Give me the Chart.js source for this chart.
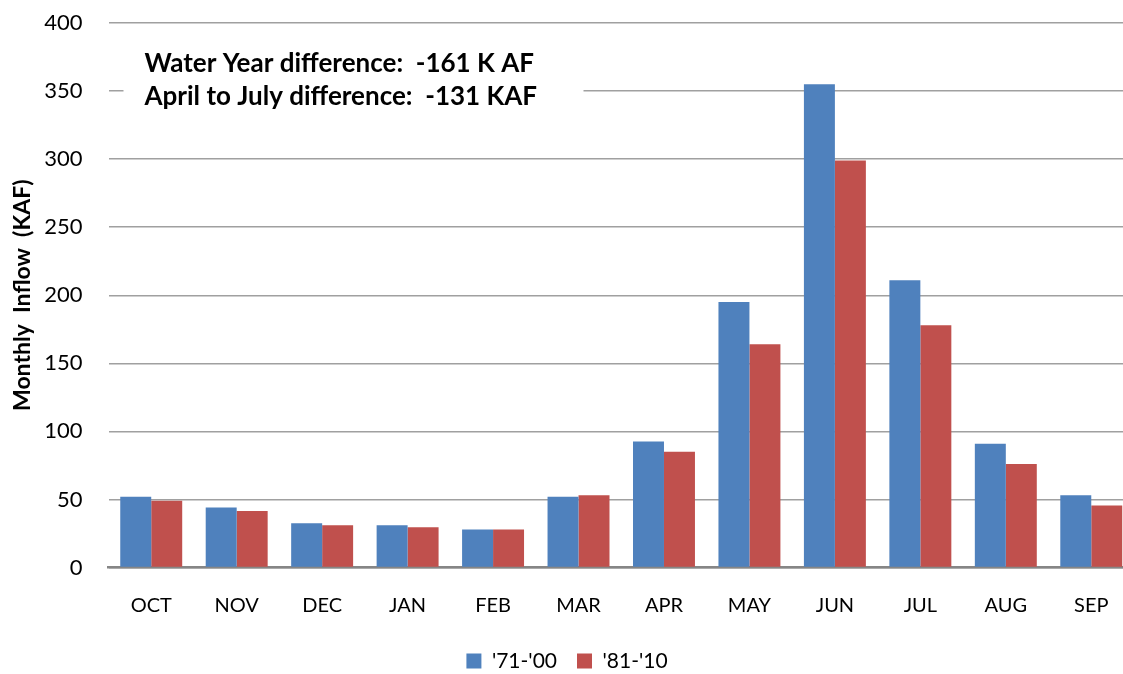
<!DOCTYPE html>
<html>
<head>
<meta charset="utf-8">
<script src="https://cdn.jsdelivr.net/npm/chart.js@4/dist/chart.umd.min.js"></script>
<style>
  html, body { margin: 0; padding: 0; background: #fff; overflow: hidden; }
  #wrap { width: 1145px; height: 674px; }
</style>
</head>
<body>
<div id="wrap"><canvas id="myChart"></canvas></div>
<script>
// Month labels (water year order)
const months = ["OCT", "NOV", "DEC", "JAN", "FEB", "MAR", "APR", "MAY", "JUN", "JUL", "AUG", "SEP"];

// Monthly inflow, KAF
const avg7100 = [52, 44, 32.5, 31, 28, 52, 92.5, 195, 355, 211, 91, 53];
const avg8110 = [49, 41.5, 31, 29.5, 28, 53, 85, 164, 299, 178, 76, 45.5];

const seriesNames = ["'71-'00", "'81-'10"];
const noteLines = ["Water Year difference:  -161 K AF", "April to July difference:  -131 KAF"];

const baseFont = "Lato, 'Open Sans', sans-serif";

// White box with the two bold notes over the top-left of the plot
const notePlugin = {
  id: "notes",
  afterDraw(chart) {
    const ctx = chart.ctx;
    const area = chart.chartArea;
    ctx.save();
    ctx.fillStyle = "#ffffff";
    ctx.fillRect(area.left + 15, area.top + 18, 460, 82);
    ctx.fillStyle = "#000000";
    ctx.font = "bold 26px " + baseFont;
    ctx.textBaseline = "alphabetic";
    ctx.textAlign = "left";
    ctx.fillText(noteLines[0], area.left + 36, area.top + 49);
    ctx.fillText(noteLines[1], area.left + 36, area.top + 82);
    ctx.restore();
  }
};

function renderChart() {
  const ctx = document.getElementById("myChart").getContext("2d");
  new Chart(ctx, {
    type: "bar",
    data: {
      labels: months,
      datasets: [
        {
          label: seriesNames[0],
          data: avg7100,
          backgroundColor: "#4f81bd",
          borderWidth: 0
        },
        {
          label: seriesNames[1],
          data: avg8110,
          backgroundColor: "#c0504d",
          borderWidth: 0
        }
      ]
    },
    options: {
      responsive: true,
      maintainAspectRatio: false,
      animation: false,
      layout: {
        padding: { top: 23, right: 11, bottom: -7.5, left: 0 }
      },
      datasets: {
        bar: {
          categoryPercentage: 0.725,
          barPercentage: 1.0
        }
      },
      scales: {
        x: {
          grid: { display: false, drawTicks: false },
          border: { display: true, color: "#868686", width: 2.5 },
          ticks: {
            color: "#000",
            font: { family: baseFont, size: 20 },
            padding: 26,
            maxRotation: 0
          },
          afterFit(scale) { scale.height = 63; }
        },
        y: {
          min: 0,
          max: 400,
          grid: { color: "#a0a0a0", lineWidth: 1.5, drawTicks: false },
          border: { display: false },
          ticks: {
            stepSize: 50,
            color: "#000",
            font: { family: baseFont, size: 22 },
            padding: 26
          },
          title: {
            display: true,
            text: "Monthly  Inflow  (KAF)",
            color: "#000",
            font: { family: baseFont, size: 23, weight: "bold" },
            padding: { top: 9, bottom: 0 }
          },
          afterFit(scale) {
            scale.width = 108.5;
            scale.paddingTop = 0;
            scale.paddingBottom = 0;
          }
        }
      },
      plugins: {
        legend: {
          position: "bottom",
          labels: {
            color: "#000",
            font: { family: baseFont, size: 21 },
            boxWidth: 15,
            boxHeight: 15,
            padding: 20
          }
        },
        tooltip: { enabled: false }
      }
    },
    plugins: [notePlugin]
  });
}

document.addEventListener("DOMContentLoaded", () => {
  renderChart();
});
</script>
</body>
</html>
